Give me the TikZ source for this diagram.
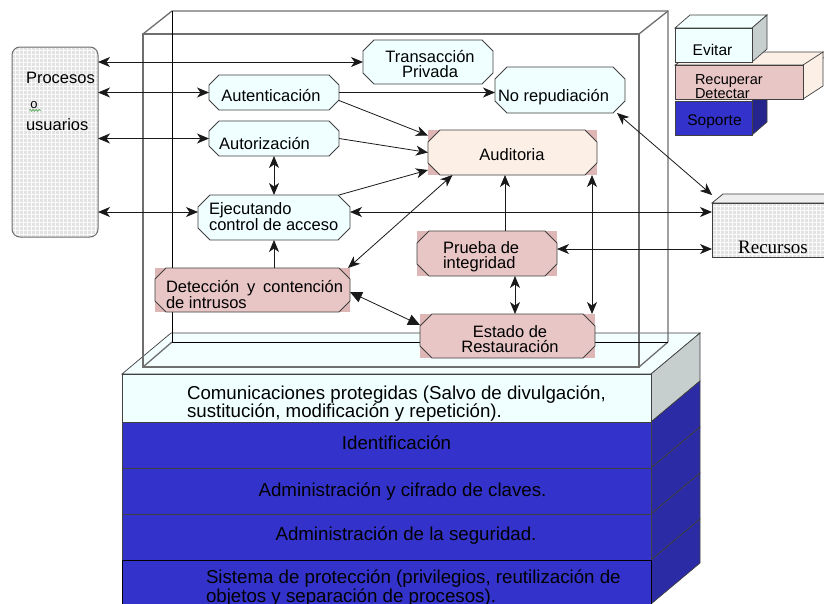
\documentclass[tikz,border=0pt]{standalone}
\usepackage{fontspec}
\setmainfont{Liberation Sans}
\newfontfamily\serifrm{Liberation Serif}
\usetikzlibrary{arrows.meta,decorations.pathmorphing}
\definecolor{cyanf}{HTML}{F0FFFF}
\definecolor{cyantop}{HTML}{F3FEFE}
\definecolor{greyface}{HTML}{C6CECE}
\definecolor{pinkf}{HTML}{E8C6C6}
\definecolor{pinkc}{HTML}{DFB6B6}
\definecolor{peach}{HTML}{FCEFE6}
\definecolor{bluef}{HTML}{3333CC}
\definecolor{blues}{HTML}{2B2BA6}
\definecolor{edge}{HTML}{404040}
\definecolor{cubeg}{HTML}{6E6E6E}
\definecolor{gridbg}{HTML}{E2E2E2}
\definecolor{wordgreen}{HTML}{3C9A3C}
\pgfdeclarelayer{bg}
\pgfsetlayers{bg,main}
% octagon outline drawn over a (rectangular) node
\newcommand\octo[3][11pt]{%
  \filldraw[fill=#3, draw=edge, line width=0.9pt]
    ([xshift=#1]#2.north west) -- ([xshift=-#1]#2.north east) --
    ([yshift=-#1]#2.north east) -- ([yshift=#1]#2.south east) --
    ([xshift=-#1]#2.south east) -- ([xshift=#1]#2.south west) --
    ([yshift=#1]#2.south west) -- ([yshift=-#1]#2.north west) -- cycle;}
\begin{document}
\begin{tikzpicture}[x=1pt,y=-1pt,
  box/.style={rectangle, inner sep=0pt, outer sep=0pt},
  t16/.style={font=\fontsize{16.5}{15}\selectfont, inner sep=0pt, outer sep=0pt},
  t19/.style={font=\fontsize{18.7}{15}\selectfont, inner sep=0pt, outer sep=0pt},
  t14/.style={font=\fontsize{14.5}{12}\selectfont, inner sep=0pt, outer sep=0pt},
  arw/.tip={Stealth[length=12pt,width=10pt,inset=3.5pt]},
  dbl/.style={arw-arw, line width=0.8pt, draw=black!90},
  sgl/.style={-arw, line width=0.8pt, draw=black!90},
  tri/.style={{Triangle[length=12pt,width=11pt]}-{Triangle[length=12pt,width=11pt]}, line width=0.8pt, draw=black!90},
  row/.style={rectangle, draw=edge, line width=0.7pt, minimum width=529pt, anchor=north west, inner sep=0pt, outer sep=0pt},
  cube/.style={draw=cubeg, line width=1.3pt},
  face/.style={draw=edge, line width=0.7pt},
  legbox/.style={rectangle, draw=edge, line width=0.8pt, anchor=north west, inner sep=0pt, outer sep=0pt},
  gridfill/.style={fill=gridbg, path picture={\draw[white!85!gridbg, line width=0.7pt] (path picture bounding box.south west) grid[step=4pt] (path picture bounding box.north east);}},
]
\useasboundingbox (0,0) rectangle (824,603);

% ---------- base structure (background layer) ----------
\begin{pgfonlayer}{bg}
\fill[white] (0,0) rectangle (824,603);
% slab top face
\filldraw[fill=cyantop, face] (122,374) -- (171,333) -- (700,333) -- (651,374) -- cycle;
% slab right faces
\filldraw[fill=greyface, face] (651,374) -- (700,333) -- (700,381) -- (651,422) -- cycle;
\filldraw[fill=blues, face] (651,422) -- (700,381) -- (700,427) -- (651,468) -- cycle;
\filldraw[fill=blues, face] (651,468) -- (700,427) -- (700,473) -- (651,514) -- cycle;
\filldraw[fill=blues, face] (651,514) -- (700,473) -- (700,519) -- (651,560) -- cycle;
\filldraw[fill=blues, face] (651,560) -- (700,519) -- (700,563) -- (651,604) -- cycle;
% slab front rows
\node[row, fill=cyanf, minimum height=48pt] (r1) at (122,374) {};
\node[row, fill=bluef, minimum height=46pt] (r2) at (122,422) {};
\node[row, fill=bluef, minimum height=46pt] (r3) at (122,468) {};
\node[row, fill=bluef, minimum height=46pt] (r4) at (122,514) {};
\node[row, fill=bluef, minimum height=44pt, draw=black] (r5) at (122,560) {};
% cube wireframe
\draw[cube] (143,34) rectangle (639,367);
\draw[cube] (143,34) -- (172,11) -- (668,11) -- (668,342);
\draw[cube] (639,34) -- (668,11);
\draw[cube] (639,367) -- (668,342);
\draw[cube] (143,367) -- (172,342);
\draw[black, line width=1pt] (172,11) -- (172,342) -- (668,342);
\end{pgfonlayer}

% ---------- layer texts ----------
\node[t19, align=left, anchor=west] (r1t) at (187,403.5) {Comunicaciones protegidas (Salvo de divulgación,\\sustitución, modificación y repetición).};
\node[t19, anchor=base] (r2t) at (396.5,449.3) {Identificación};
\node[t19, anchor=base] (r3t) at (402.5,496.7) {Administración y cifrado de claves.};
\node[t19, anchor=base] (r4t) at (406,540) {Administración de la seguridad.};
\node[t19, align=left, anchor=west] (r5t) at (206,588) {Sistema de protección (privilegios, reutilización de\\objetos y separación de procesos).};

% ---------- Procesos y usuarios ----------
\node[draw=cubeg, line width=1pt, rounded corners=8pt, gridfill, minimum width=86pt, minimum height=190pt, anchor=north west, inner sep=0pt, outer sep=0pt] (proc) at (12,47) {};
\node[t16, anchor=base west] (procA) at (26,83.3) {Procesos};
\node[font=\fontsize{13}{13}\selectfont, inner sep=0pt, anchor=base] (procO) at (34,108) {o};
\draw[wordgreen, line width=0.6pt, decorate, decoration={snake, amplitude=0.9pt, segment length=3pt}] (procO.south west) ++(-1,2) -- ++(12,0);
\node[t16, anchor=base west] (procB) at (26,130) {usuarios};

% ---------- octagon nodes ----------
\node[box, minimum width=130pt, minimum height=44pt] (trans) at (428,62) {};
\octo{trans}{cyanf}
\node[box, minimum width=130pt, minimum height=35pt] (autent) at (274,92.5) {};
\octo[10pt]{autent}{cyanf}
\node[box, minimum width=130pt, minimum height=46pt] (norep) at (560,90) {};
\octo[12pt]{norep}{cyanf}
\node[box, minimum width=130pt, minimum height=35pt] (autor) at (274,138.5) {};
\octo[10pt]{autor}{cyanf}
\node[box, fill=pinkc, minimum width=169pt, minimum height=45pt] (audit) at (512.5,152.5) {};
\octo[12pt]{audit}{peach}
\node[box, minimum width=152pt, minimum height=45pt] (ejec) at (274,217.5) {};
\octo[12pt]{ejec}{cyanf}
\node[box, fill=pinkc, minimum width=195pt, minimum height=44pt] (detec) at (252.5,290) {};
\octo{detec}{pinkf}
\node[box, fill=pinkc, minimum width=140pt, minimum height=45pt] (prueba) at (487,253.5) {};
\octo[12pt]{prueba}{pinkf}
\node[box, fill=pinkc, minimum width=175pt, minimum height=44pt] (estado) at (507.5,336) {};
\octo[12pt]{estado}{pinkf}

% texts of the octagons
\node[t16, align=center] (transT) at (430,64.5) {Transacción\\Privada};
\node[t16, anchor=base] (autentT) at (271,101.7) {Autenticación};
\node[t16, anchor=base] (norepT) at (553.5,101) {No repudiación};
\node[t16, anchor=base] (autorT) at (264.5,149.3) {Autorización};
\node[t16, anchor=base] (auditT) at (512,160) {Auditoria};
\node[t16, align=left, anchor=west] (ejecT) at (209,216.5) {Ejecutando\\control de acceso};
\node[t16, align=left, anchor=west] (detecT) at (166,294.5) {\makebox[177pt][s]{Detección y contención}\\de intrusos};
\node[t16, align=left, anchor=west] (pruebaT) at (443,256.5) {Prueba de\\integridad};
\node[t16, align=center] (estadoT) at (510,339) {Estado de\\Restauración};

% ---------- Recursos ----------
\filldraw[fill=gridbg!60!white, draw=edge, line width=0.8pt] (712,203) -- (723,194) -- (840,194) -- (840,203) -- cycle;
\node[gridfill, draw=edge, line width=0.8pt, minimum width=128pt, minimum height=54pt, anchor=north west, inner sep=0pt, outer sep=0pt] (recur) at (712,203) {};
\node[font=\serifrm\fontsize{19}{19}\selectfont, inner sep=0pt, anchor=base] (recurT) at (773,253.3) {Recursos};

% ---------- legend blocks ----------
\filldraw[fill=blues!85!black, face] (752,101) -- (767,88) -- (767,122) -- (752,135) -- cycle;
\filldraw[fill=peach, face] (675,65) -- (695,52) -- (840,52) -- (803,65) -- cycle;
\filldraw[fill=peach, face] (803,65) -- (823,52) -- (823,86) -- (803,99) -- cycle;
\node[legbox, fill=pinkf, minimum width=128pt, minimum height=34pt] (recup) at (675,65) {};
\filldraw[fill=cyantop, face] (675,28) -- (690,15) -- (767,15) -- (752,28) -- cycle;
\filldraw[fill=greyface, face] (752,28) -- (767,15) -- (767,49) -- (752,62) -- cycle;
\node[legbox, fill=cyanf, minimum width=77pt, minimum height=34pt] (evit) at (675,28) {};
\node[legbox, fill=bluef, minimum width=77pt, minimum height=34pt] (sopo) at (675,101) {};
\node[font=\fontsize{15.5}{15}\selectfont, inner sep=0pt, anchor=base] (evitT) at (712.5,55) {Evitar};
\node[t14, align=left, anchor=west] (recupT) at (695,86.5) {Recuperar\\Detectar};
\node[font=\fontsize{15.5}{15}\selectfont, inner sep=0pt, anchor=base] (sopoT) at (714.5,125) {Soporte};

% ---------- connectors ----------
\draw[dbl] (proc.east |- trans.west) -- (trans.west);
\draw[dbl] (proc.east |- autent.west) -- (autent.west);
\draw[dbl] (proc.east |- autor.west) -- (autor.west);
\coordinate (ejL) at ([yshift=5.5pt]ejec.west);
\draw[dbl] (proc.east |- ejL) -- (ejL);
\draw[sgl] (autent.east) -- (autent.east -| norep.west);
\draw[sgl] ([yshift=-8pt]autent.east) -- ([yshift=17pt]audit.west);
\draw[sgl] (autor.east) -- (audit.west);
\draw[sgl] ([xshift=65pt]ejec.north) -- ([yshift=-17.5pt]audit.west);
\draw[dbl] (autor.south) -- (ejec.north);
\draw[sgl] (detec.north -| ejec.south) -- (ejec.south);
\draw[dbl] ([xshift=-60pt]audit.south) -- ([xshift=95.5pt]detec.north);
\coordinate (pN) at ([xshift=18pt]prueba.north);
\draw[sgl] (pN) -- (pN |- audit.south);
\coordinate (eN) at ([xshift=84.5pt]estado.north);
\draw[dbl] (eN) -- (eN |- audit.south);
\coordinate (pS) at ([xshift=28pt]prueba.south);
\draw[dbl] (pS) -- (pS |- estado.north);
\draw[tri] ([yshift=-2pt]detec.east) -- ([yshift=11pt]estado.west);
\coordinate (ejR) at ([yshift=5.5pt]ejec.east);
\draw[dbl] (ejR) -- (ejR -| recur.west);
\coordinate (prR) at ([yshift=4.5pt]prueba.east);
\draw[dbl] (prR) -- (prR -| recur.west);
\draw[dbl] ([xshift=57pt]norep.south) -- ([yshift=8pt]recur.north west);
\end{tikzpicture}
\end{document}
